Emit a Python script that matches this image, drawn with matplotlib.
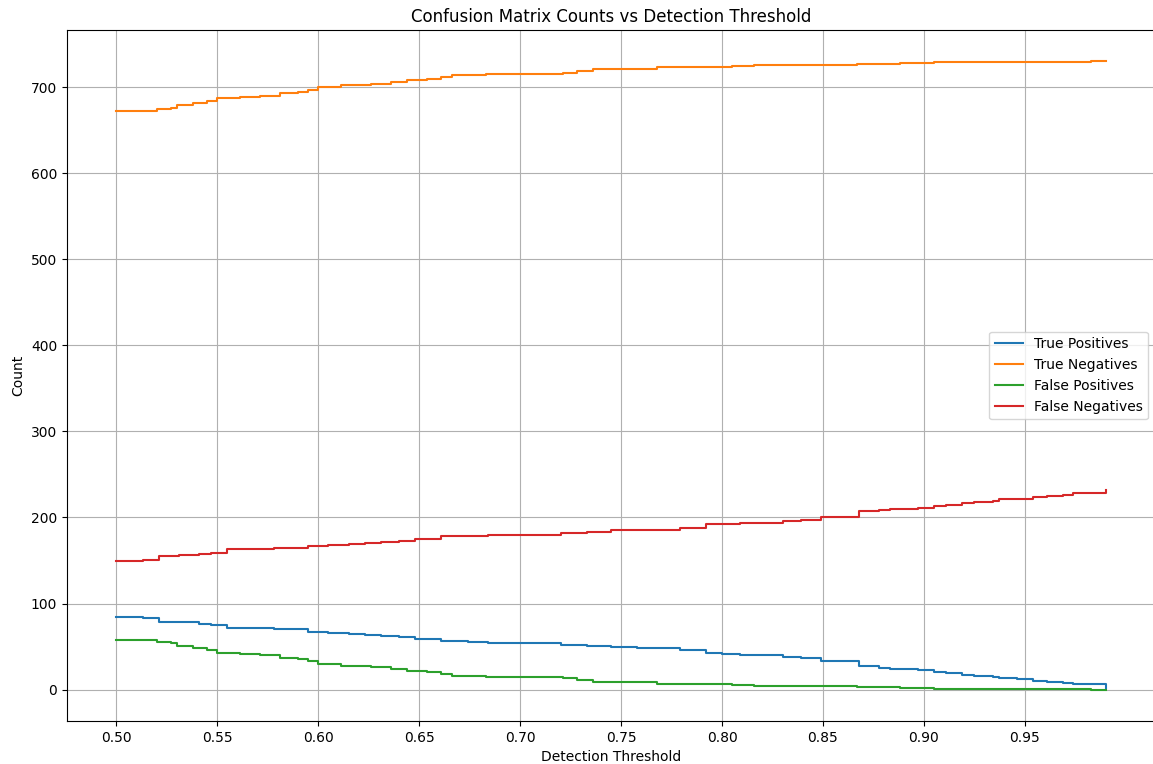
import numpy as np
import matplotlib
matplotlib.use("Agg")
import matplotlib.pyplot as plt

# Thresholds at which TP / FN change
tp_thr = [0.500, 0.513, 0.521, 0.531, 0.541, 0.547, 0.555, 0.578, 0.595, 0.605,
          0.615, 0.623, 0.631, 0.640, 0.648, 0.661, 0.674, 0.684, 0.720, 0.733,
          0.745, 0.758, 0.779, 0.792, 0.800, 0.809, 0.830, 0.839, 0.849, 0.868,
          0.878, 0.883, 0.897, 0.905, 0.911, 0.919, 0.925, 0.934, 0.937, 0.946,
          0.954, 0.961, 0.969, 0.974, 0.990]
true_pos = [84, 83, 79, 78, 76, 75, 71, 70, 67, 66,
            65, 64, 62, 61, 59, 56, 55, 54, 52, 51,
            49, 48, 46, 42, 41, 40, 38, 37, 33, 27,
            25, 24, 23, 21, 19, 17, 16, 15, 13, 12,
            10, 9, 8, 6, 2]
false_neg = [150, 151, 155, 156, 158, 159, 163, 164, 167, 168,
             169, 170, 172, 173, 175, 178, 179, 180, 182, 183,
             185, 186, 188, 192, 193, 194, 196, 197, 201, 207,
             209, 210, 211, 213, 215, 217, 218, 219, 221, 222,
             224, 225, 226, 228, 232]

# Thresholds at which TN / FP change
fp_thr = [0.500, 0.520, 0.527, 0.530, 0.538, 0.545, 0.550, 0.561, 0.571, 0.581,
          0.590, 0.595, 0.600, 0.611, 0.626, 0.636, 0.644, 0.654, 0.661, 0.666,
          0.683, 0.721, 0.728, 0.736, 0.768, 0.772, 0.805, 0.816, 0.867, 0.888,
          0.905, 0.983, 0.990]
false_pos = [58, 55, 54, 51, 48, 46, 43, 41, 40, 37,
             35, 33, 30, 27, 26, 24, 22, 20, 18, 16,
             15, 14, 11, 9, 7, 6, 5, 4, 3, 2,
             1, 0, 0]
true_neg = [672, 675, 676, 679, 682, 684, 687, 689, 690, 693,
            695, 697, 700, 703, 704, 706, 708, 710, 712, 714,
            715, 716, 719, 721, 723, 724, 725, 726, 727, 728,
            729, 730, 730]

fig = plt.figure(figsize=(11.53, 7.64), dpi=100)
ax = fig.add_axes([67 / 1153, 43 / 764, (1155 - 67) / 1153, (721 - 30) / 764])

ax.plot(tp_thr, true_pos, drawstyle="steps-post", label="True Positives")
ax.plot(fp_thr, true_neg, drawstyle="steps-post", label="True Negatives")
ax.plot(fp_thr, false_pos, drawstyle="steps-post", label="False Positives")
ax.plot(tp_thr, false_neg, drawstyle="steps-post", label="False Negatives")

ax.set_title("Confusion Matrix Counts vs Detection Threshold")
ax.set_xlabel("Detection Threshold")
ax.set_ylabel("Count")
ax.set_xticks(np.arange(0.5, 1.0, 0.05))
ax.grid(True)
ax.legend(loc="center right")

fig.savefig("out.png", dpi=100)
